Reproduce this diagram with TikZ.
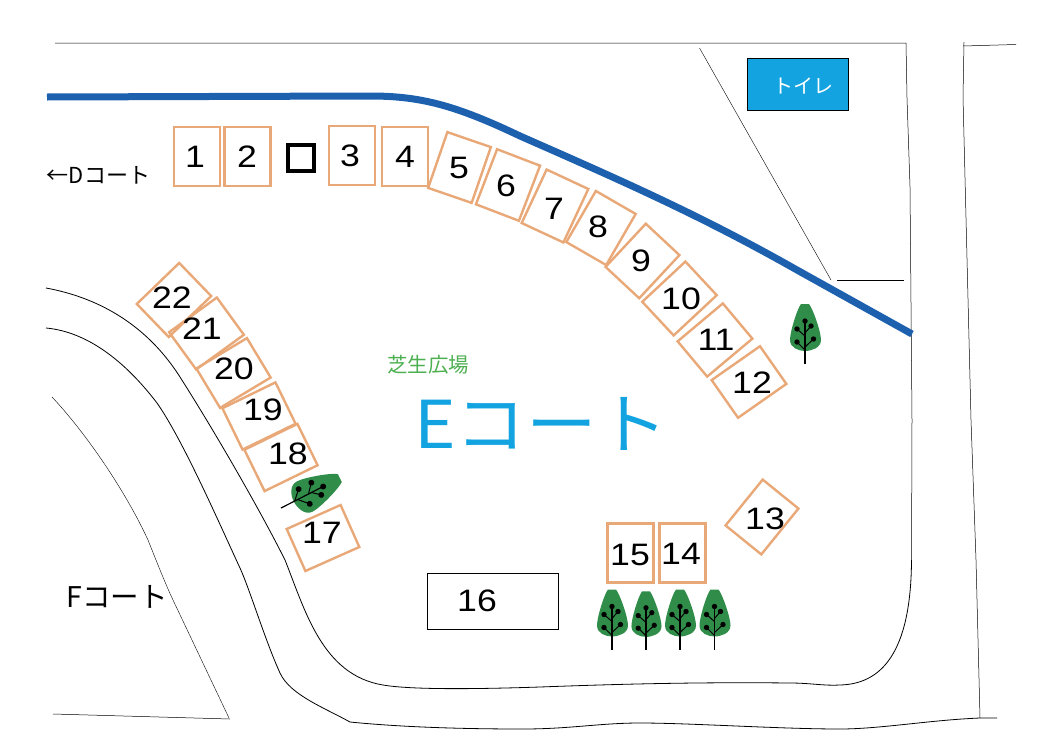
\documentclass[tikz,border=0pt]{standalone}
\usepackage{fontspec}
\setmainfont{Liberation Sans}
\newfontfamily\cjk{Noto Sans CJK JP}
\definecolor{plotline}{HTML}{E9A877}
\definecolor{roadblue}{HTML}{1C60AE}
\definecolor{courtblue}{HTML}{12A3E0}
\definecolor{lawngreen}{HTML}{4CAF50}
\definecolor{treegreen}{HTML}{2F8C49}
\tikzset{
  plotbox/.style={rectangle, minimum width=46pt, minimum height=59pt, inner sep=0pt, line width=2.4pt, draw=plotline},
  plotnum/.style={inner sep=0pt, font=\fontsize{31}{31}\selectfont, xscale=1.15, transform shape},
  roadline/.style={line width=0.8pt, draw=black},
  thinline/.style={line width=0.5pt, draw=black},
  parktree/.pic={
    \fill [treegreen] (-4,-60) -- (4,-60) .. controls (8,-55) and (16,-32) .. (16,-24) .. controls (16,-16) and (6,-13) .. (0,-13) .. controls (-6,-13) and (-15,-16) .. (-15,-24) .. controls (-15,-32) and (-8,-55) .. (-4,-60) -- cycle;
    \draw [line width=1.2pt] (0,0) -- (0,-43);
    \draw [line width=1pt] (0,-28) -- (-8,-35) (0,-31) -- (6,-38) (0,-14) -- (-8,-22) (0,-17) -- (8.5,-25);
    \fill (0,-43) circle (2.7) (6,-38) circle (2.7) (-8,-35) circle (2.7) (-8,-22) circle (2.7) (8.5,-25) circle (2.7);
  }
}
\begin{document}
\begin{tikzpicture}
[x=1pt, y=-1pt]
\useasboundingbox (0,0) rectangle (1052,747);
% outer lines
\draw [thinline] (55,43) -- (906,43) -- (907,98) -- (910,187) -- (912,420) -- (911.5,560);
\draw [roadline] (46,288) .. controls (95,297) and (145,322) .. (180,377) .. controls (215,432) and (260,510) .. (285,560) .. controls (305,610) and (322,675) .. (383,685) .. controls (412,690) and (480,689) .. (540,687) .. controls (620,684) and (700,682) .. (790,683) .. controls (810,683) and (825,686) .. (840,685) .. controls (880,684) and (911,655) .. (911.5,560);
\draw [roadline] (46,328) .. controls (90,332) and (128,365) .. (157,403) .. controls (183,440) and (220,525) .. (240,568) .. controls (250,590) and (265,640) .. (280,673) .. controls (290,695) and (325,708) .. (350,722) .. controls (400,727) and (460,729) .. (523,729) .. controls (570,729) and (600,723) .. (640,723) .. controls (690,723) and (780,729) .. (840,729) .. controls (880,729) and (930,720) .. (980,718) -- (997,718);
\draw [thinline] (964,42) -- (963,97) -- (971,420) -- (976,560) -- (980,718);
\draw [thinline] (963,46) -- (1016,44.5);
\draw [line width=0.4pt] (52,397) .. controls (85,432) and (125,490) .. (148,540) .. controls (156,560) and (165,583) .. (173,600) -- (229,718);
\draw [thinline] (53,714) -- (230,719);
\draw [line width=0.4pt] (699.5,48) -- (831,280);
\draw [thinline] (837,280) -- (903.5,280);
% blue path
\draw [line width=7pt, draw=roadblue] (47,97) -- (370,96) .. controls (420,96) and (455,105) .. (520,136) .. controls (620,180) and (700,215) .. (797,270) -- (912,334);
% plots
\node (p1) [plotbox] at (197,156.5) {};
\node (p2) [plotbox] at (247.5,156.5) {};
\node (p3) [plotbox] at (352,155.5) {};
\node (p4) [plotbox] at (405,156.5) {};
\node (p5) [plotbox, rotate=-19] at (459.5,167.5) {};
\node (p6) [plotbox, rotate=-21] at (508,185) {};
\node (p7) [plotbox, rotate=-25] at (555,206) {};
\node (p8) [plotbox, rotate=-30] at (601,228) {};
\node (p9) [plotbox, rotate=-43] at (642.5,261) {};
\node (p10) [plotbox, rotate=-47] at (679.5,298.5) {};
\node (p11) [plotbox, rotate=-50] at (715,340) {};
\node (p12) [plotbox, rotate=-55] at (749,382) {};
\node (p13) [plotbox, rotate=-39] at (762,517) {};
\node (p14) [plotbox] at (682.5,553) {};
\node (p15) [plotbox] at (630.5,553) {};
\node (p17) [plotbox, rotate=114] at (323,538) {};
\node (p18) [plotbox, rotate=116] at (281,457.5) {};
\node (p19) [plotbox, rotate=116] at (259,416) {};
\node (p20) [plotbox, rotate=121] at (233.5,373) {};
\node (p21) [plotbox, rotate=126] at (206.5,333.5) {};
\node (p22) [plotbox, rotate=134] at (174,300) {};
\node (p16) [rectangle, minimum width=131pt, minimum height=56pt, inner sep=0pt, line width=0.8pt, draw=black] at (493,601) {};
\node (post) [rectangle, minimum size=26pt, inner sep=0pt, line width=4.5pt, draw=black] at (301,158) {};
\node (toilet) [rectangle, minimum width=101pt, minimum height=52pt, inner sep=0pt, line width=0.8pt, draw=black, fill=courtblue] at (797.5,84) {};
% plot numbers
\node (n1) [plotnum] at (195,157) {1};
\node (n2) [plotnum] at (247,157) {2};
\node (n3) [plotnum] at (350,156) {3};
\node (n4) [plotnum] at (405,157) {4};
\node (n5) [plotnum] at (459,168) {5};
\node (n6) [plotnum] at (506,186) {6};
\node (n7) [plotnum] at (554,209) {7};
\node (n8) [plotnum] at (598,227) {8};
\node (n9) [plotnum] at (641,261) {9};
\node (n10) [plotnum] at (681,299) {10};
\node (n11) [plotnum] at (716,340) {11};
\node (n12) [plotnum] at (752,383) {12};
\node (n13) [plotnum] at (765,519) {13};
\node (n14) [plotnum] at (681,554) {14};
\node (n15) [plotnum] at (630,555) {15};
\node (n16) [plotnum] at (477,601) {16};
\node (n17) [plotnum] at (322,533) {17};
\node (n18) [plotnum] at (288,454) {18};
\node (n19) [plotnum] at (263,410) {19};
\node (n20) [plotnum] at (234,369) {20};
\node (n21) [plotnum] at (202,329) {21};
\node (n22) [plotnum] at (172,298) {22};
% trees
\pic at (805,364) {parktree};
\pic at (612,649.5) {parktree};
\pic [scale=0.97] at (646,649.5) {parktree};
\pic at (680,649.5) {parktree};
\pic at (714.5,649.5) {parktree};
\pic [rotate=-63, scale=1.1] at (281,508) {parktree};
% labels
\node (dcourt) [inner sep=0pt, font=\cjk\fontsize{22}{22}\selectfont] at (98.5,175) {←Dコート};
\node (fcourt) [inner sep=0pt, font=\cjk\fontsize{28.5}{28.5}\selectfont] at (117,597) {Fコート};
\node (toiletname) [inner sep=0pt, text=white, font=\cjk\fontsize{20}{20}\selectfont] at (803,86) {トイレ};
\node (lawn) [inner sep=0pt, text=lawngreen, font=\cjk\fontsize{20.5}{20.5}\selectfont] at (428,365) {芝生広場};
\node (ecourt) [inner sep=0pt, text=courtblue, xscale=1.07, transform shape, font=\cjk\fontsize{66}{66}\selectfont] at (541,424) {Eコート};
\end{tikzpicture}
\end{document}
